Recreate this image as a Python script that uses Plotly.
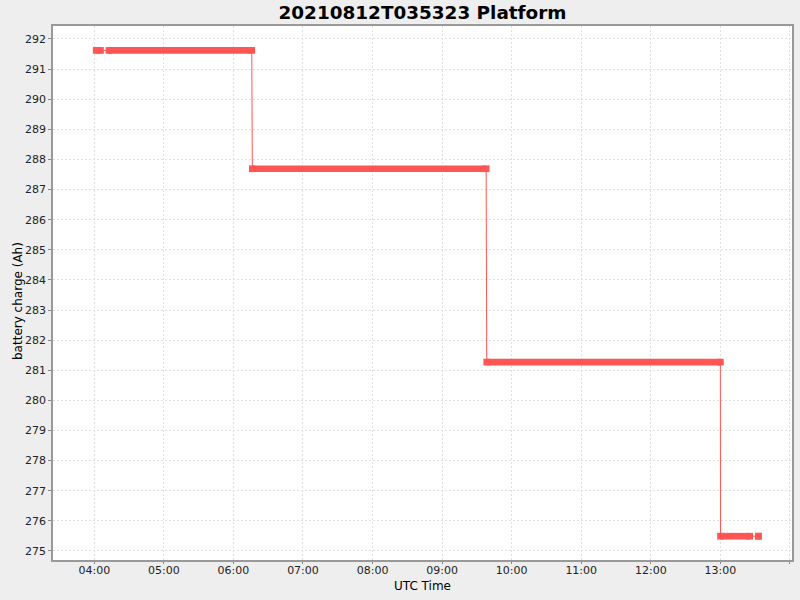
import plotly.graph_objects as go

# runs of samples (start, end, charge in Ah)
day = "2021-08-12 "
run_start = ["04:01:40", "04:12:40", "06:16:20", "09:38:30", "13:00:10", "13:32:50"]
run_end = ["04:05:20", "06:15:50", "09:38:00", "13:00:00", "13:25:20", "13:32:50"]
run_charge = [291.62, 291.62, 287.69, 281.27, 275.49, 275.49]

y_ticks = list(range(275, 293))

red = "#FF5555"
grid = "#E0E0E0"
font = "DejaVu Sans"

# thin connecting line through all samples
line_x, line_y = [], []
# thick runs of dense markers
run_x, run_y = [], []
for s, e, v in zip(run_start, run_end, run_charge):
    line_x += [day + s, day + e]
    line_y += [v, v]
    run_x += [day + s, day + e, None]
    run_y += [v, v, None]

fig = go.Figure()

fig.add_trace(go.Scatter(
    x=line_x, y=line_y,
    mode="lines",
    line=dict(color=red, width=1),
    hoverinfo="skip",
))

fig.add_trace(go.Scatter(
    x=run_x, y=run_y,
    mode="lines+markers",
    line=dict(color=red, width=6.7),
    marker=dict(symbol="square", size=6.7, color=red, line=dict(width=0)),
    name="battery charge",
))

fig.update_layout(
    width=800, height=600,
    title=dict(text="<b>20210812T035323 Platform</b>", x=0.5, xanchor="center",
               xref="paper", y=1 - 12.5 / 600, yanchor="middle",
               font=dict(family=font, size=18.4, color="black")),
    font=dict(family=font, size=11, color="#222222"),
    paper_bgcolor="#EEEEEE",
    plot_bgcolor="white",
    showlegend=False,
    margin=dict(l=53, r=8, t=26, b=40),
    xaxis=dict(
        type="date",
        range=[day + "03:24:24", day + "14:01:48"],
        tick0=day + "00:00",
        dtick=3600000,
        tickformat="%H:%M",
        ticks="outside", ticklen=2, tickcolor="#888888",
        ticklabelstandoff=-3,
        showgrid=True, gridcolor=grid, griddash="2px,2px", gridwidth=1,
        showline=True, linecolor="#999999", linewidth=1.5, mirror=True,
        zeroline=False, automargin=False,
    ),
    yaxis=dict(
        range=[274.7, 292.43],
        tickvals=y_ticks,
        ticks="outside", ticklen=3, tickcolor="#888888",
        showgrid=True, gridcolor=grid, griddash="2px,2px", gridwidth=1,
        showline=True, linecolor="#999999", linewidth=1.5, mirror=True,
        zeroline=False, automargin=False,
    ),
    annotations=[
        dict(text="UTC Time", xref="paper", yref="paper", x=0.5, y=0,
             xanchor="center", yanchor="middle", yshift=-26, showarrow=False,
             font=dict(family=font, size=12, color="black")),
        dict(text="battery charge (Ah)", xref="paper", yref="paper", x=0, y=0.5,
             xanchor="center", yanchor="middle", xshift=-35, yshift=-8,
             textangle=-90, showarrow=False,
             font=dict(family=font, size=12, color="black")),
    ],
)

# drop the page's default body margin so the figure sits at the top-left corner
fig.write_html("out.html", config={"displayModeBar": False},
               post_script="document.body.style.margin='0';")
